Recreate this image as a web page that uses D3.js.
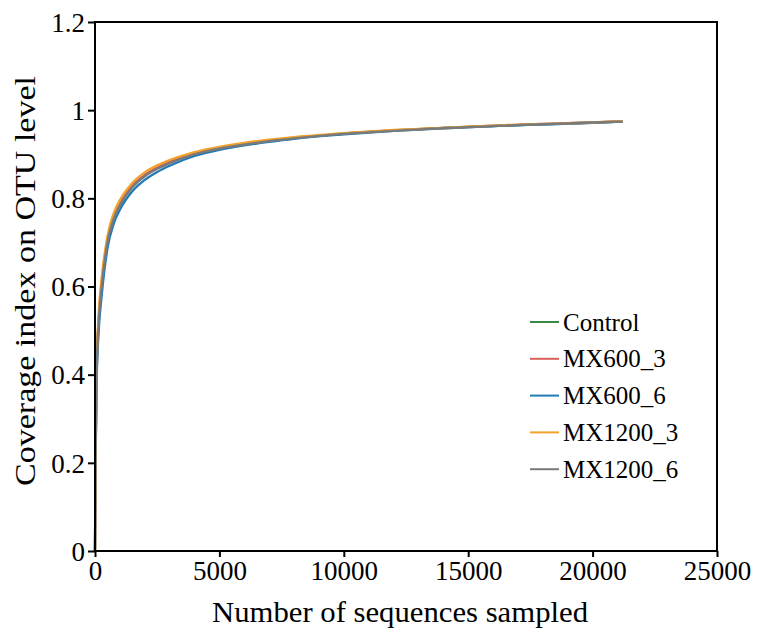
<!DOCTYPE html>
<html>
<head>
<meta charset="utf-8">
<script src="https://cdn.jsdelivr.net/npm/d3@7/dist/d3.min.js"></script>
<style>
  body { margin: 0; background: #fff; }
  svg { display: block; font-family: "Liberation Serif", "Times New Roman", serif; }
</style>
</head>
<body>
<svg id="chart" width="757" height="637"></svg>
<script>
// sampled sequence depths (x) shared by all series
const depths = [0, 20, 60, 150, 270, 500, 750, 1000, 1500, 2000, 2500, 3000, 4000,
  5000, 6000, 7000, 8000, 10000, 12000, 14000, 16000, 18000, 20000, 21200];

const seriesNames = ['Control', 'MX600_3', 'MX600_6', 'MX1200_3', 'MX1200_6'];
const seriesColors = ['#3a8a45', '#d9605a', '#1f7ab8', '#f2a22a', '#7a7a7a'];

// coverage values
const control  = [0, 0.19, 0.39, 0.52, 0.60, 0.700, 0.754, 0.785, 0.826, 0.851, 0.868, 0.881, 0.901, 0.914, 0.923, 0.931, 0.937, 0.947, 0.954, 0.960, 0.964, 0.968, 0.972, 0.974];
const mx600_3  = [0, 0.20, 0.40, 0.53, 0.61, 0.705, 0.758, 0.789, 0.829, 0.853, 0.870, 0.883, 0.902, 0.915, 0.924, 0.931, 0.937, 0.947, 0.954, 0.960, 0.965, 0.969, 0.972, 0.975];
const mx600_6  = [0, 0.18, 0.37, 0.50, 0.58, 0.686, 0.742, 0.774, 0.816, 0.842, 0.860, 0.874, 0.896, 0.910, 0.920, 0.928, 0.935, 0.945, 0.953, 0.959, 0.964, 0.968, 0.971, 0.974];
const mx1200_3 = [0, 0.21, 0.41, 0.54, 0.62, 0.714, 0.766, 0.796, 0.835, 0.859, 0.875, 0.887, 0.905, 0.917, 0.926, 0.933, 0.939, 0.948, 0.955, 0.960, 0.965, 0.969, 0.972, 0.975];
const mx1200_6 = [0, 0.19, 0.39, 0.52, 0.60, 0.700, 0.753, 0.784, 0.825, 0.850, 0.867, 0.880, 0.900, 0.913, 0.922, 0.930, 0.936, 0.946, 0.953, 0.959, 0.964, 0.968, 0.972, 0.974];
const seriesValues = [control, mx600_3, mx600_6, mx1200_3, mx1200_6];

const xTicks = [0, 5000, 10000, 15000, 20000, 25000];
const yTicks = [0, 0.2, 0.4, 0.6, 0.8, 1, 1.2];

const svg = d3.select('#chart');
const margin = { top: 22, right: 40, bottom: 86, left: 95 };
const W = 757, H = 637;
const innerW = W - margin.left - margin.right;
const innerH = H - margin.top - margin.bottom;

const g = svg.append('g').attr('transform', `translate(${margin.left},${margin.top})`);

const x = d3.scaleLinear().domain([0, 25000]).range([0, innerW]);
const y = d3.scaleLinear().domain([0, 1.2]).range([innerH, 0]);

// Kurven
const line = d3.line()
  .x(d => x(d[0]))
  .y(d => y(d[1]))
  .curve(d3.curveMonotoneX);

seriesValues.forEach((vals, i) => {
  g.append('path')
    .datum(depths.map((dx, j) => [dx, vals[j]]))
    .attr('fill', 'none')
    .attr('stroke', seriesColors[i])
    .attr('stroke-width', 2.3)
    .attr('d', line);
});

// Rahmen
g.append('rect')
  .attr('width', innerW).attr('height', innerH)
  .attr('fill', 'none').attr('stroke', '#000').attr('stroke-width', 2);

// Achsen
const xAxis = g.append('g')
  .attr('transform', `translate(0,${innerH})`)
  .call(d3.axisBottom(x).tickValues(xTicks).tickFormat(d3.format('d')).tickSize(6).tickPadding(4));
const yAxis = g.append('g')
  .call(d3.axisLeft(y).tickValues(yTicks).tickFormat(d => String(+d.toFixed(1))).tickSize(7).tickPadding(3));

[xAxis, yAxis].forEach(a => {
  a.select('.domain').remove();
  a.selectAll('line').attr('stroke', '#000').attr('stroke-width', 2);
  a.selectAll('text').attr('fill', '#000').style('font-size', '27px')
    .style('font-family', '"Liberation Serif", serif');
});
yAxis.selectAll('text').attr('dy', '0.34em');

// Achsentitel
svg.append('text')
  .attr('x', margin.left + innerW / 2 - 6)
  .attr('y', 622)
  .attr('text-anchor', 'middle')
  .attr('textLength', 376)
  .attr('lengthAdjust', 'spacingAndGlyphs')
  .style('font-size', '30px')
  .text('Number of sequences sampled');

svg.append('text')
  .attr('transform', `translate(35,281) rotate(-90)`)
  .attr('text-anchor', 'middle')
  .attr('textLength', 410)
  .attr('lengthAdjust', 'spacingAndGlyphs')
  .style('font-size', '30px')
  .text('Coverage index on OTU level');

// Legende
const legend = svg.append('g').attr('transform', 'translate(530,322)');
seriesNames.forEach((name, i) => {
  const row = legend.append('g').attr('transform', `translate(0,${i * 36.8})`);
  row.append('line')
    .attr('x1', 0).attr('x2', 29)
    .attr('stroke', seriesColors[i]).attr('stroke-width', 2);
  row.append('text')
    .attr('x', 33).attr('dy', '0.34em')
    .style('font-size', '25px')
    .text(name);
});
</script>
</body>
</html>
